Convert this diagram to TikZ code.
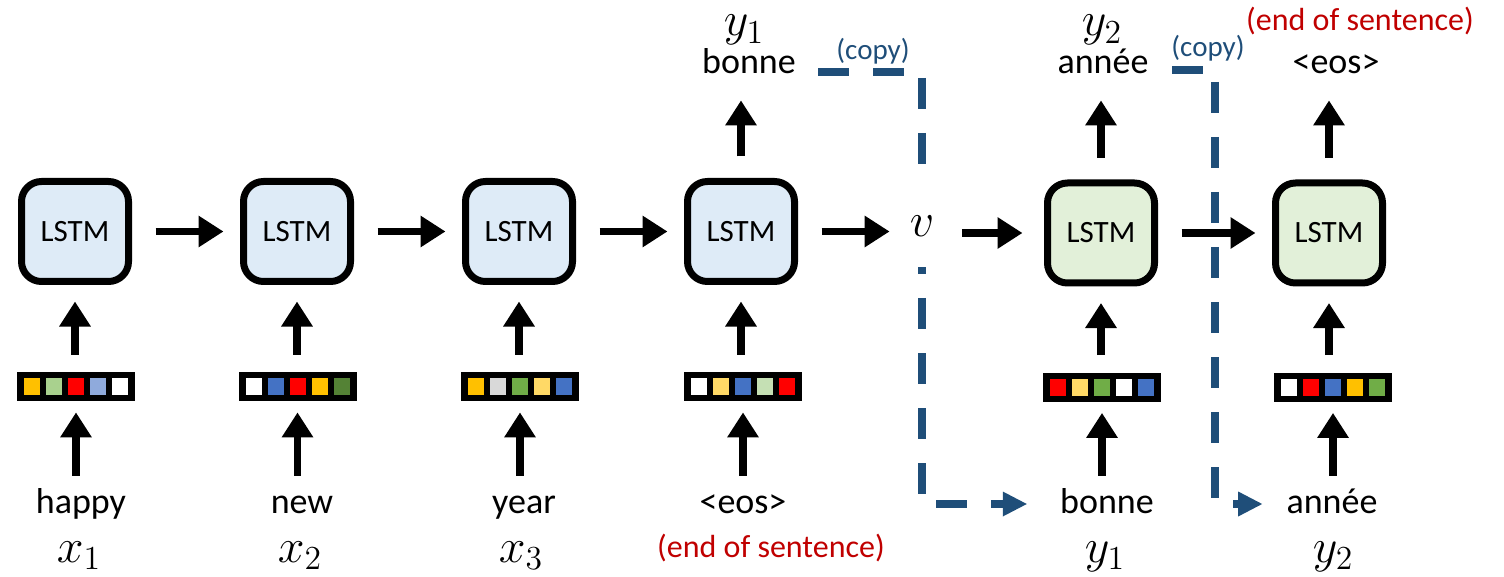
\RequirePackage{fix-cm}
\documentclass[tikz,border=0pt]{standalone}
\usepackage[no-math]{fontspec}
\setmainfont{Carlito}
\usetikzlibrary{arrows.meta,calc}

\definecolor{lstmblue}{HTML}{DEEBF7}
\definecolor{lstmgreen}{HTML}{E2F0D9}
\definecolor{copyblue}{HTML}{1F4E79}
\definecolor{eosred}{HTML}{C00000}
\definecolor{vOrange}{HTML}{FFC000}
\definecolor{vLtGreen}{HTML}{A9D18E}
\definecolor{vRed}{HTML}{FF0000}
\definecolor{vLtBlue}{HTML}{8FAADC}
\definecolor{vBlue}{HTML}{4472C4}
\definecolor{vDkGreen}{HTML}{548235}
\definecolor{vGray}{HTML}{D9D9D9}
\definecolor{vGreen}{HTML}{70AD47}
\definecolor{vGold}{HTML}{FFD966}
\definecolor{vPale}{HTML}{C5E0B4}

% word embedding: black bar with five coloured cells
\newcommand\embvec[4]{%
  \node[vecbar] (#1) at (#2,#3) {};
  \foreach \col [count=\i] in {#4}
    \node[cell,fill=\col] at ($(#1.center)+({(\i-3)*22},0)$) {};
}

\begin{document}
\begin{tikzpicture}[x=0.5pt,y=-0.5pt,
  lstm/.style={draw=black,line width=3.5pt,rounded corners=10pt,
    minimum width=53.5pt,minimum height=50pt,inner sep=0pt,
    font=\fontsize{15.5}{18}\selectfont},
  enc/.style={lstm,fill=lstmblue},
  dec/.style={lstm,fill=lstmgreen},
  vecbar/.style={fill=black,minimum width=59pt,minimum height=14.5pt,inner sep=0pt},
  cell/.style={minimum width=8pt,minimum height=8.5pt,inner sep=0pt},
  word/.style={font=\fontsize{18}{21}\selectfont,inner sep=0pt,
    text height=13pt,text depth=4pt,anchor=base},
  mathlab/.style={font=\fontsize{24}{28}\selectfont,inner sep=0pt,anchor=base},
  note/.style={font=\fontsize{16}{19}\selectfont,text=eosred,inner sep=0pt,anchor=base},
  copynote/.style={font=\fontsize{14.5}{17}\selectfont,text=copyblue,inner sep=0pt,anchor=base},
  arr/.style={draw=black,line width=3.75pt,-{Triangle[length=12.5pt,width=15pt]}},
  harr/.style={arr,shorten <=11.75pt,shorten >=8.25pt},
  uparr/.style={arr,shorten <=8.5pt,shorten >=8.25pt},
  lowarr/.style={arr,shorten <=5.5pt,shorten >=5.5pt},
  toparr/.style={arr,shorten <=10.75pt,shorten >=9pt},
  vmask/.style={fill=white,inner sep=0pt,minimum width=25pt,minimum height=41pt,
    font=\fontsize{24}{28}\selectfont},
  copyline/.style={draw=copyblue,line width=4pt,dash pattern=on 15.5pt off 12pt},
  copytip/.style={fill=copyblue}
]
\useasboundingbox (0,0) rectangle (1504,577);

% LSTM cells
\node[enc] (b1) at (75,231.5) {LSTM};
\node[enc] (b2) at (297,231.5) {LSTM};
\node[enc] (b3) at (519,231.5) {LSTM};
\node[enc] (b4) at (741,231.5) {LSTM};
\node[dec] (b5) at (1101,233) {LSTM};
\node[dec] (b6) at (1329,233) {LSTM};

% encoded vector (routing point; its label is drawn over the copy line)
\coordinate (v) at (922,226);

% embeddings
\embvec{e1}{76}{386.5}{vOrange,vLtGreen,vRed,vLtBlue,white}
\embvec{e2}{297.5}{386.5}{white,vBlue,vRed,vOrange,vDkGreen}
\embvec{e3}{520}{386.5}{vOrange,vGray,vGreen,vGold,vBlue}
\embvec{e4}{743}{386.5}{white,vGold,vBlue,vPale,vRed}
\embvec{e5}{1102}{387}{vRed,vGold,vGreen,white,vBlue}
\embvec{e6}{1333}{387}{white,vRed,vBlue,vOrange,vGreen}

% input words
\node[word] (w1) at (81,513) {happy};
\node[word] (w2) at (302,513) {new};
\node[word] (w3) at (524,513) {year};
\node[word] (w4) at (743,513) {<eos>};
\node[word] (w5) at (1107,513) {bonne};
\node[word] (w6) at (1332,513) {année};

\node[mathlab] (x1) at (79,562) {$x_1$};
\node[mathlab] (x2) at (300,562) {$x_2$};
\node[mathlab] (x3) at (521,562) {$x_3$};
\node[mathlab] (yb1) at (1105,562) {$y_1$};
\node[mathlab] (yb2) at (1333,562) {$y_2$};
\node[note] (eosA) at (771,557) {(end of sentence)};

% output words
\node[word] (t4) at (749,74) {bonne};
\node[word] (t5) at (1103,74) {année};
\node[word] (t6) at (1336,74) {<eos>};
\node[mathlab] (yt1) at (744,36) {$y_1$};
\node[mathlab] (yt2) at (1102,36) {$y_2$};
\node[note] (eosB) at (1360,31) {(end of sentence)};

\node[copynote] (cpA) at (873,60) {(copy)};
\node[copynote] (cpB) at (1208,57) {(copy)};

% copy paths: output fed back as next input
\coordinate (cp1) at (818,72);
\coordinate (cp2) at (1172,70);
\coordinate (turn2) at (1215,70);
\draw[copyline,shorten >=28.5pt] (cp1) -| (v) |- (w5.west);
\fill[copytip] ($(w5.west)+(-33,0)$) -- ++(-24,-12.5) -- ++(0,25) -- cycle;
\draw[copyline,shorten >=24pt] (cp2) -- (turn2) |- (w6.west);
\fill[copytip] ($(w6.west)+(-24,0)$) -- ++(-24,-12.5) -- ++(0,25) -- cycle;
\node[vmask] (vn) at (v) {\raisebox{-3pt}{$v$}};

% recurrent connections
\draw[harr] (b1) -- (b2);
\draw[harr] (b2) -- (b3);
\draw[harr] (b3) -- (b4);
\draw[arr,shorten <=11.75pt,shorten >=3.5pt] (b4) -- (b4 -| vn.west);
\draw[arr,shorten <=7.5pt,shorten >=10.75pt] (vn.east |- b5) -- (b5.west);
\draw[harr] (b5) -- (b6);

% embeddings into cells
\foreach \k in {1,...,6} {
  \draw[uparr] (e\k.north -| b\k) -- (b\k.south);
  \draw[lowarr] (w\k.north -| e\k) -- (e\k.south);
}

% cells to outputs
\draw[toparr] (b4.north) -- (b4.north |- t4.south);
\draw[toparr] (b5.north) -- (b5.north |- t5.south);
\draw[toparr] (b6.north) -- (b6.north |- t6.south);
\end{tikzpicture}
\end{document}
